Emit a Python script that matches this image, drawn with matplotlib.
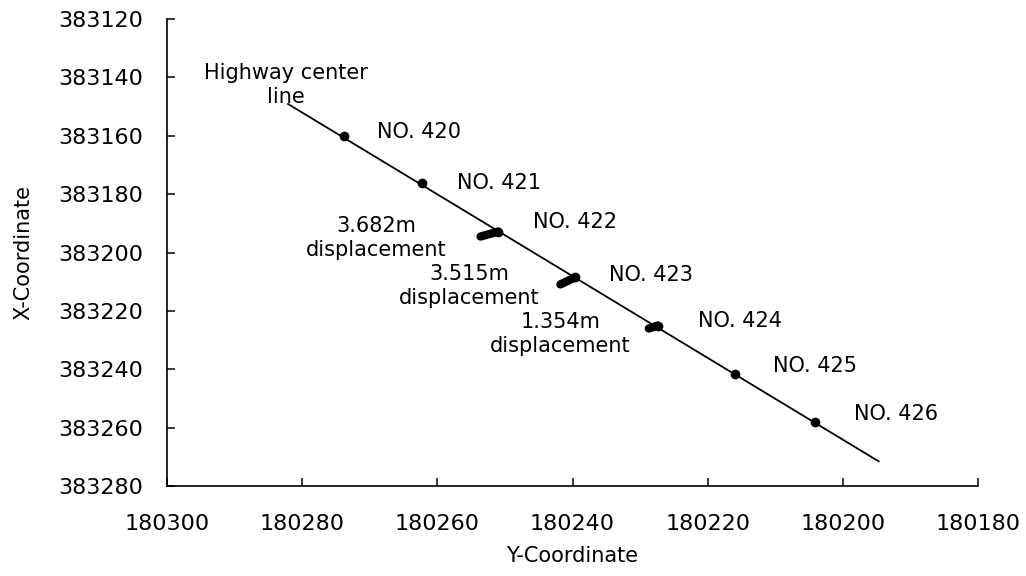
import matplotlib
matplotlib.use("Agg")
import matplotlib.pyplot as plt

plt.rcParams['font.family'] = ['DejaVu Sans']
plt.rcParams['font.size'] = 15

# station points (Y-coordinate, X-coordinate)
stations = ['NO. 420', 'NO. 421', 'NO. 422', 'NO. 423', 'NO. 424', 'NO. 425', 'NO. 426']
sta_y = [180273.8, 180262.2, 180251.0, 180239.6, 180227.4, 180215.9, 180204.1]
sta_x = [383160.0, 383176.1, 383192.8, 383208.5, 383225.0, 383241.7, 383258.1]

# displaced positions for NO.422-424
disp_idx = [2, 3, 4]
disp_y = [180253.6, 180241.8, 180228.7]
disp_x = [383194.5, 383210.9, 383226.0]
disp_text = ['3.682m\ndisplacement', '3.515m\ndisplacement', '1.354m\ndisplacement']
disp_lab_y = [180269.0, 180255.3, 180241.8]
disp_lab_x = [383194.9, 383211.6, 383228.0]

# highway center line ends
line_y = [180282.1, 180194.7]
line_x = [383149.1, 383271.5]

y_ticks = [180300, 180280, 180260, 180240, 180220, 180200, 180180]
x_ticks = [383120, 383140, 383160, 383180, 383200, 383220, 383240, 383260, 383280]

fig = plt.figure(figsize=(10.26, 5.76), dpi=100)
ax = fig.add_axes([0.1628, 0.156, 0.7904, 0.811])

ax.plot(line_y, line_x, color='black', lw=1.3)
ax.plot(sta_y, sta_x, 'o', color='black', ms=6)

# displacement strokes
for i, dy, dx in zip(disp_idx, disp_y, disp_x):
    ax.plot([sta_y[i], dy], [sta_x[i], dx], color='black', lw=6,
            solid_capstyle='round')

# station labels (offsets in points)
offs = [(24, 3), (25, 0), (25, 7), (24, 2), (29, 3), (27, 6), (28, 6)]
for name, yy, xx, o in zip(stations, sta_y, sta_x, offs):
    ax.annotate(name, (yy, xx), xytext=o, textcoords='offset points',
                ha='left', va='center')

for t, yy, xx in zip(disp_text, disp_lab_y, disp_lab_x):
    ax.text(yy, xx, t, ha='center', va='center', linespacing=1.25)

ax.text(180282.4, 383142.6, 'Highway center\nline', ha='center', va='center',
        linespacing=1.2)

ax.set_xlim(180300, 180180)
ax.set_ylim(383280, 383120)
ax.set_xticks(y_ticks)
ax.set_yticks(x_ticks)
ax.ticklabel_format(useOffset=False, style='plain')

ax.spines['top'].set_visible(False)
ax.spines['right'].set_visible(False)
ax.spines['left'].set_linewidth(1.2)
ax.spines['bottom'].set_linewidth(1.2)
ax.tick_params(direction='in', length=6, width=1.1, labelsize=16)
ax.tick_params(axis='x', pad=20)
ax.tick_params(axis='y', pad=17)

ax.set_xlabel('Y-Coordinate', labelpad=9)
ax.set_ylabel('X-Coordinate', labelpad=18)

fig.savefig('out.png', dpi=100)
